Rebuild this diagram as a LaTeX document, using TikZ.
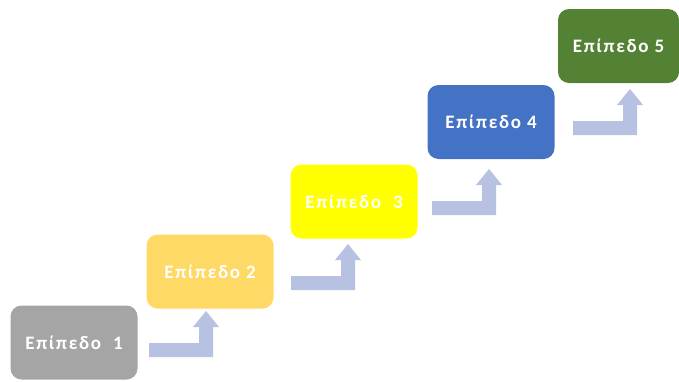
\documentclass[tikz,border=0pt]{standalone}
\usepackage{fontspec}
\setmainfont{Carlito}
\newfontfamily\levelfont[LetterSpace=9]{Carlito}
\definecolor{lvgray}{HTML}{A5A5A5}
\definecolor{lvorange}{HTML}{FFD966}
\definecolor{lvyellow}{HTML}{FFFF00}
\definecolor{lvblue}{HTML}{4472C4}
\definecolor{lvgreen}{HTML}{548235}
\definecolor{arrowfill}{RGB}{183,193,226}
\tikzset{
  levelbox/.style={rounded corners=11pt, minimum width=127pt, minimum height=74pt,
    inner sep=0pt, text=white, font=\levelfont\bfseries\fontsize{19}{22}\selectfont},
  bentarrow/.pic={\fill[arrowfill] (0,0) -- (0,-14) -- (50,-14) -- (50,-30) -- (44,-30)
    -- (57,-46) -- (70,-30) -- (64,-30) -- (64,0) -- cycle;}
}
\begin{document}
\begin{tikzpicture}[x=1pt,y=-1pt]
\useasboundingbox (0,0) rectangle (679,381);
\node[levelbox, fill=lvgray] (l1) at (74,342.5) {Επίπεδο\ \ 1};
\node[levelbox, fill=lvorange] (l2) at (210,271.5) {Επίπεδο 2};
\node[levelbox, fill=lvyellow] (l3) at (354,201.5) {Επίπεδο\ \ 3};
\node[levelbox, fill=lvblue] (l4) at (491,122) {Επίπεδο 4};
\node[levelbox, fill=lvgreen, minimum width=121pt] (l5) at (618.5,46) {Επίπεδο 5};
\coordinate (a1) at (149,357);
\coordinate (a2) at (291,290);
\coordinate (a3) at (432,215);
\coordinate (a4) at (573,135);
\pic at (a1) {bentarrow};
\pic at (a2) {bentarrow};
\pic at (a3) {bentarrow};
\pic at (a4) {bentarrow};
\end{tikzpicture}
\end{document}
